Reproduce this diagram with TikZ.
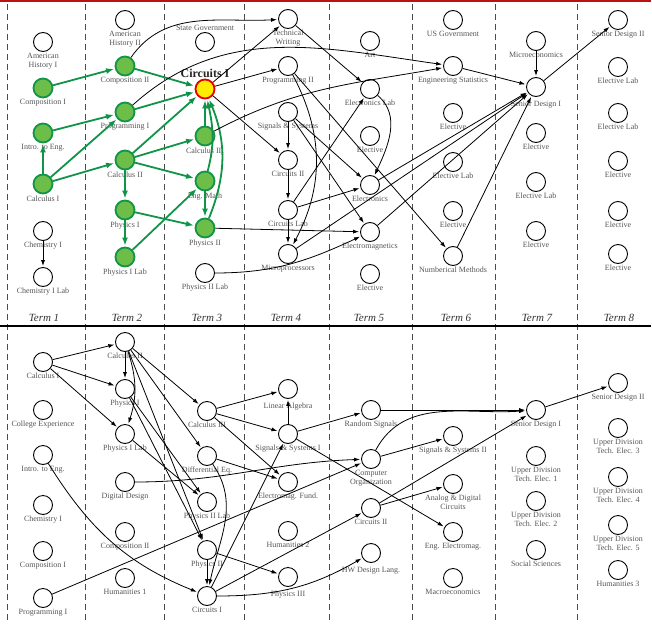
\documentclass[tikz,border=0pt]{standalone}
\usepackage{fontspec}
\setmainfont{Liberation Serif}
\usetikzlibrary{arrows.meta}

\definecolor{prereqgreen}{RGB}{16,148,72}
\definecolor{prereqfill}{RGB}{108,190,72}
\definecolor{labelgray}{RGB}{85,85,85}
\definecolor{rulered}{RGB}{190,18,18}

\begin{document}
\begin{tikzpicture}[x=1pt, y=-1pt, shorten >=1pt,
    node_style/.style={circle, draw=black, fill=white, line width=0.9pt, minimum size=19pt, inner sep=0pt},
    prereq_node_style/.style={node_style, draw=prereqgreen, fill=prereqfill, line width=1.8pt},
    target_node_style/.style={node_style, draw=red!90!black, fill=yellow!95!orange, line width=1.8pt},
    lbl/.style={font=\fontsize{8}{8.6}\selectfont, text=labelgray, align=center, inner sep=1pt},
    edge_style/.style={draw=black, line width=0.8pt, -{Latex[length=6pt,width=4pt]}},
    prereq_edge_style/.style={draw=prereqgreen, line width=1.8pt, -{Latex[length=8pt,width=6pt]}},
    term_style/.style={font=\fontsize{11}{12}\selectfont\itshape, text=black!80}]

    \useasboundingbox (0,0) rectangle (652,623);

    % frame: red top rule, term separators, split between the two plans
    \draw[rulered, line width=1.5pt] (0,1) -- (652,1);
    \foreach \x in {7,85,164,244,329,412,495,577}
        \draw[black!70, line width=0.8pt, dash pattern=on 6pt off 4pt] (\x,4) -- (\x,623);
    \draw[black, line width=1.1pt] (0,326) -- (652,326);
    \foreach \x/\t in {44/1,127/2,207/3,286/4,369/5,456/6,537/7,619/8}
        \node[term_style] (term\t) at (\x,318) {Term \t};

    % ---- upper plan ----
    \node[node_style] (t_amhist1) at (43,42) [label={[lbl]below:American\\History I}] {};
    \node[prereq_node_style] (t_comp1) at (43,88) [label={[lbl]below:Composition I}] {};
    \node[prereq_node_style] (t_introeng) at (43,133) [label={[lbl]below:Intro. to Eng.}] {};
    \node[prereq_node_style] (t_calc1) at (43,184) [label={[lbl]below:Calculus I}] {};
    \node[node_style] (t_chem1) at (43,231) [label={[lbl]below:Chemistry I}] {};
    \node[node_style] (t_chem1lab) at (43,277) [label={[lbl]below:Chemistry I Lab}] {};

    \node[node_style] (t_amhist2) at (125,20) [label={[lbl]below:American\\History II}] {};
    \node[prereq_node_style] (t_comp2) at (125,66) [label={[lbl]below:Composition II}] {};
    \node[prereq_node_style] (t_prog1) at (125,112) [label={[lbl]below:Programming I}] {};
    \node[prereq_node_style] (t_calc2) at (125,160) [label={[lbl]below:Calculus II}] {};
    \node[prereq_node_style] (t_phys1) at (125,210) [label={[lbl]below:Physics I}] {};
    \node[prereq_node_style] (t_phys1lab) at (125,257) [label={[lbl]below:Physics I Lab}] {};

    \node[node_style] (t_stategov) at (205,42) [label={[lbl]above:State Government}] {};
    \node[target_node_style] (t_circ1) at (205,89)
        [label={[font=\fontsize{12}{13}\selectfont\bfseries, text=black!85, inner sep=1pt]above:Circuits I}] {};
    \node[prereq_node_style] (t_calc3) at (205,136) [label={[lbl]below:Calculus III}] {};
    \node[prereq_node_style] (t_engmath) at (205,181) [label={[lbl]below:Eng. Math}] {};
    \node[prereq_node_style] (t_phys2) at (205,228) [label={[lbl]below:Physics II}] {};
    \node[node_style] (t_phys2lab) at (205,273) [label={[lbl]below:Physics II Lab}] {};

    \node[node_style] (t_techwrit) at (288,19) [label={[lbl]below:Technical\\Writing}] {};
    \node[node_style] (t_prog2) at (288,66) [label={[lbl]below:Programming II}] {};
    \node[node_style] (t_sigsys) at (288,112) [label={[lbl]below:Signals \& Systems}] {};
    \node[node_style] (t_circ2) at (288,160) [label={[lbl]below:Circuits II}] {};
    \node[node_style] (t_circlab) at (288,210) [label={[lbl]below:Circuits Lab}] {};
    \node[node_style] (t_micro) at (288,254) [label={[lbl]below:Microprocessors}] {};

    \node[node_style] (t_art) at (370,41) [label={[lbl]below:Art}] {};
    \node[node_style] (t_eleclab) at (370,89) [label={[lbl]below:Electronics Lab}] {};
    \node[node_style] (t_elect5a) at (370,136) [label={[lbl]below:Elective}] {};
    \node[node_style] (t_electronics) at (370,185) [label={[lbl]below:Electronics}] {};
    \node[node_style] (t_emag) at (370,232) [label={[lbl]below:Electromagnetics}] {};
    \node[node_style] (t_elect5b) at (370,274) [label={[lbl]below:Elective}] {};

    \node[node_style] (t_usgov) at (453,20) [label={[lbl]below:US Government}] {};
    \node[node_style] (t_engstat) at (453,66) [label={[lbl]below:Engineering Statistics}] {};
    \node[node_style] (t_elect6a) at (453,113) [label={[lbl]below:Elective}] {};
    \node[node_style] (t_electlab6) at (453,162) [label={[lbl]below:Elective Lab}] {};
    \node[node_style] (t_elect6b) at (453,211) [label={[lbl]below:Elective}] {};
    \node[node_style] (t_nummeth) at (453,256) [label={[lbl]below:Numberical Methods}] {};

    \node[node_style] (t_microecon) at (536,41) [label={[lbl]below:Microeconomics}] {};
    \node[node_style] (t_sd1) at (536,87) [label={[lbl,yshift=-3pt]below:Senior Design I}] {};
    \node[node_style] (t_elect7a) at (536,133) [label={[lbl]below:Elective}] {};
    \node[node_style] (t_electlab7) at (536,182) [label={[lbl]below:Elective Lab}] {};
    \node[node_style] (t_elect7b) at (536,231) [label={[lbl]below:Elective}] {};

    \node[node_style] (t_sd2) at (618,20) [label={[lbl]below:Senior Design II}] {};
    \node[node_style] (t_electlab8a) at (618,67) [label={[lbl]below:Elective Lab}] {};
    \node[node_style] (t_electlab8b) at (618,113) [label={[lbl]below:Elective Lab}] {};
    \node[node_style] (t_elect8a) at (618,161) [label={[lbl]below:Elective}] {};
    \node[node_style] (t_elect8b) at (618,211) [label={[lbl]below:Elective}] {};
    \node[node_style] (t_elect8c) at (618,254) [label={[lbl]below:Elective}] {};

    % what leads into Circuits I
    \draw[prereq_edge_style] (t_comp1) edge (t_comp2);
    \draw[prereq_edge_style] (t_introeng) edge (t_prog1);
    \draw[prereq_edge_style] (t_calc1) edge (t_introeng);
    \draw[prereq_edge_style] (t_calc1) edge (t_prog1);
    \draw[prereq_edge_style] (t_calc1) edge (t_calc2);
    \draw[prereq_edge_style] (t_calc2) edge (t_phys1);
    \draw[prereq_edge_style] (t_phys1) edge (t_phys1lab);
    \draw[prereq_edge_style] (t_comp2) edge (t_circ1);
    \draw[prereq_edge_style] (t_prog1) edge (t_circ1);
    \draw[prereq_edge_style] (t_calc2) edge (t_circ1);
    \draw[prereq_edge_style] (t_calc2) edge (t_calc3);
    \draw[prereq_edge_style] (t_calc2) edge (t_engmath);
    \draw[prereq_edge_style] (t_phys1) edge (t_phys2);
    \draw[prereq_edge_style] (t_phys1lab) edge (t_engmath);
    \draw[prereq_edge_style] (t_engmath) edge (t_phys2);
    \draw[prereq_edge_style] (t_calc3) edge (t_circ1);
    \draw[prereq_edge_style] (t_engmath) edge[out=75, in=-78] (t_circ1);
    \draw[prereq_edge_style] (t_phys2) edge[out=68, in=-68] (t_circ1);

    % the rest of the upper plan
    \draw[edge_style] (t_chem1) edge (t_chem1lab);
    \draw[edge_style] (t_comp2) edge[out=55, in=183] (t_techwrit);
    \draw[edge_style] (t_prog1) edge[out=42, in=172] (t_engstat);
    \draw[edge_style] (t_calc3) edge[out=28, in=190] (t_engstat);
    \draw[edge_style] (t_circ1) edge (t_techwrit);
    \draw[edge_style] (t_circ1) edge (t_prog2);
    \draw[edge_style] (t_circ1) edge (t_circ2);
    \draw[edge_style] (t_techwrit) edge (t_eleclab);
    \draw[edge_style] (t_prog2) edge (t_nummeth);
    \draw[edge_style] (t_prog2) edge[out=-62, in=62] (t_micro);
    \draw[edge_style] (t_sigsys) edge (t_circ2);
    \draw[edge_style] (t_sigsys) edge (t_electronics);
    \draw[edge_style] (t_sigsys) edge (t_emag);
    \draw[edge_style] (t_circ2) edge (t_circlab);
    \draw[edge_style] (t_circlab) edge (t_micro);
    \draw[edge_style] (t_circlab) edge (t_eleclab);
    \draw[edge_style] (t_circlab) edge (t_electronics);
    \draw[edge_style] (t_eleclab) edge[out=-40, in=65] (t_electronics);
    \draw[edge_style] (t_phys2) edge (t_emag);
    \draw[edge_style] (t_phys2lab) edge[out=0, in=205] (t_emag);
    \draw[edge_style] (t_micro) edge (t_sd1);
    \draw[edge_style] (t_electronics) edge (t_sd1);
    \draw[edge_style] (t_emag) edge (t_sd1);
    \draw[edge_style] (t_nummeth) edge (t_sd1);
    \draw[edge_style] (t_engstat) edge (t_sd1);
    \draw[edge_style] (t_microecon) edge (t_sd1);
    \draw[edge_style] (t_sd1) edge (t_sd2);

    % ---- lower plan ----
    \node[node_style] (b_calc1) at (43,362) [label={[lbl]below:Calculus I}] {};
    \node[node_style] (b_collexp) at (43,410) [label={[lbl]below:College Experience}] {};
    \node[node_style] (b_introeng) at (43,455) [label={[lbl]below:Intro. to Eng.}] {};
    \node[node_style] (b_chem1) at (43,505) [label={[lbl]below:Chemistry I}] {};
    \node[node_style] (b_comp1) at (43,551) [label={[lbl]below:Composition I}] {};
    \node[node_style] (b_prog1) at (43,598) [label={[lbl]below:Programming I}] {};

    \node[node_style] (b_calc2) at (125,342) [label={[lbl]below:Calculus II}] {};
    \node[node_style] (b_phys1) at (125,389) [label={[lbl]below:Physics I}] {};
    \node[node_style] (b_phys1lab) at (125,434) [label={[lbl]below:Physics I Lab}] {};
    \node[node_style] (b_digdes) at (125,482) [label={[lbl]below:Digital Design}] {};
    \node[node_style] (b_comp2) at (125,532) [label={[lbl]below:Composition II}] {};
    \node[node_style] (b_hum1) at (125,578) [label={[lbl]below:Humanities 1}] {};

    \node[node_style] (b_calc3) at (207,411) [label={[lbl]below:Calculus III}] {};
    \node[node_style] (b_diffeq) at (207,456) [label={[lbl]below:Differential Eq.}] {};
    \node[node_style] (b_phys2lab) at (207,502) [label={[lbl]below:Physics II Lab}] {};
    \node[node_style] (b_phys2) at (207,550) [label={[lbl]below:Physics II}] {};
    \node[node_style] (b_circ1) at (207,596) [label={[lbl]below:Circuits I}] {};

    \node[node_style] (b_linalg) at (288,389) [label={[lbl,yshift=-3pt]below:Linear Algebra}] {};
    \node[node_style] (b_sigsys1) at (288,434) [label={[lbl]below:Signals \& Systems I}] {};
    \node[node_style] (b_emfund) at (288,482) [label={[lbl]below:Electromag. Fund.}] {};
    \node[node_style] (b_hum2) at (288,531) [label={[lbl]below:Humanities 2}] {};
    \node[node_style] (b_phys3) at (288,577) [label={[lbl,yshift=-3pt]below:Physics III}] {};

    \node[node_style] (b_randsig) at (371,410) [label={[lbl]below:Random Signals}] {};
    \node[node_style] (b_comporg) at (371,459) [label={[lbl]below:Computer\\Organization}] {};
    \node[node_style] (b_circ2) at (371,508) [label={[lbl]below:Circuits II}] {};
    \node[node_style] (b_hdl) at (371,553) [label={[lbl,yshift=-3pt]below:HW Design Lang.}] {};

    \node[node_style] (b_sigsys2) at (453,436) [label={[lbl]below:Signals \& Systems II}] {};
    \node[node_style] (b_adcirc) at (453,484) [label={[lbl]below:Analog \& Digital\\Circuits}] {};
    \node[node_style] (b_engemag) at (453,532) [label={[lbl]below:Eng. Electromag.}] {};
    \node[node_style] (b_macro) at (453,578) [label={[lbl]below:Macroeconomics}] {};

    \node[node_style] (b_sd1) at (536,410) [label={[lbl]below:Senior Design I}] {};
    \node[node_style] (b_udte1) at (536,456) [label={[lbl]below:Upper Division\\Tech. Elec. 1}] {};
    \node[node_style] (b_udte2) at (536,501) [label={[lbl]below:Upper Division\\Tech. Elec. 2}] {};
    \node[node_style] (b_socsci) at (536,550) [label={[lbl]below:Social Sciences}] {};

    \node[node_style] (b_sd2) at (618,383) [label={[lbl]below:Senior Design II}] {};
    \node[node_style] (b_udte3) at (618,428) [label={[lbl]below:Upper Division\\Tech. Elec. 3}] {};
    \node[node_style] (b_udte4) at (618,477) [label={[lbl]below:Upper Division\\Tech. Elec. 4}] {};
    \node[node_style] (b_udte5) at (618,525) [label={[lbl]below:Upper Division\\Tech. Elec. 5}] {};
    \node[node_style] (b_hum3) at (618,570) [label={[lbl]below:Humanities 3}] {};

    \draw[edge_style] (b_calc1) edge (b_calc2);
    \draw[edge_style] (b_calc1) edge (b_phys1);
    \draw[edge_style] (b_calc1) edge (b_phys1lab);
    \draw[edge_style] (b_calc2) edge (b_phys1);
    \draw[edge_style] (b_calc2) edge[out=-72, in=72] (b_phys1lab);
    \draw[edge_style] (b_calc2) edge (b_calc3);
    \draw[edge_style] (b_calc2) edge (b_diffeq);
    \draw[edge_style] (b_calc2) edge (b_phys2);
    \draw[edge_style] (b_phys1) edge (b_phys2lab);
    \draw[edge_style] (b_phys1) edge (b_phys2);
    \draw[edge_style] (b_phys1lab) edge (b_phys2lab);
    \draw[edge_style] (b_introeng) edge[out=-58, in=158] (b_circ1);
    \draw[edge_style] (b_prog1) edge (b_comporg);
    \draw[edge_style] (b_digdes) edge[out=0, in=182] (b_comporg);
    \draw[edge_style] (b_calc3) edge (b_linalg);
    \draw[edge_style] (b_calc3) edge (b_sigsys1);
    \draw[edge_style] (b_calc3) edge (b_emfund);
    \draw[edge_style] (b_diffeq) edge (b_emfund);
    \draw[edge_style] (b_diffeq) edge[out=-55, in=78] (b_circ1);
    \draw[edge_style] (b_phys2) edge (b_circ1);
    \draw[edge_style] (b_phys2) edge (b_phys3);
    \draw[edge_style] (b_sigsys1) edge (b_linalg);
    \draw[edge_style] (b_circ1) edge (b_sigsys1);
    \draw[edge_style] (b_circ1) edge (b_circ2);
    \draw[edge_style] (b_circ1) edge[out=0, in=210] (b_hdl);
    \draw[edge_style] (b_sigsys1) edge (b_randsig);
    \draw[edge_style] (b_sigsys1) edge (b_engemag);
    \draw[edge_style] (b_randsig) edge (b_sd1);
    \draw[edge_style] (b_comporg) edge (b_sigsys2);
    \draw[edge_style] (b_comporg) edge[out=62, in=184] (b_sd1);
    \draw[edge_style] (b_circ2) edge (b_adcirc);
    \draw[edge_style] (b_circ2) edge (b_sd1);
    \draw[edge_style] (b_sd1) edge (b_sd2);
\end{tikzpicture}
\end{document}
